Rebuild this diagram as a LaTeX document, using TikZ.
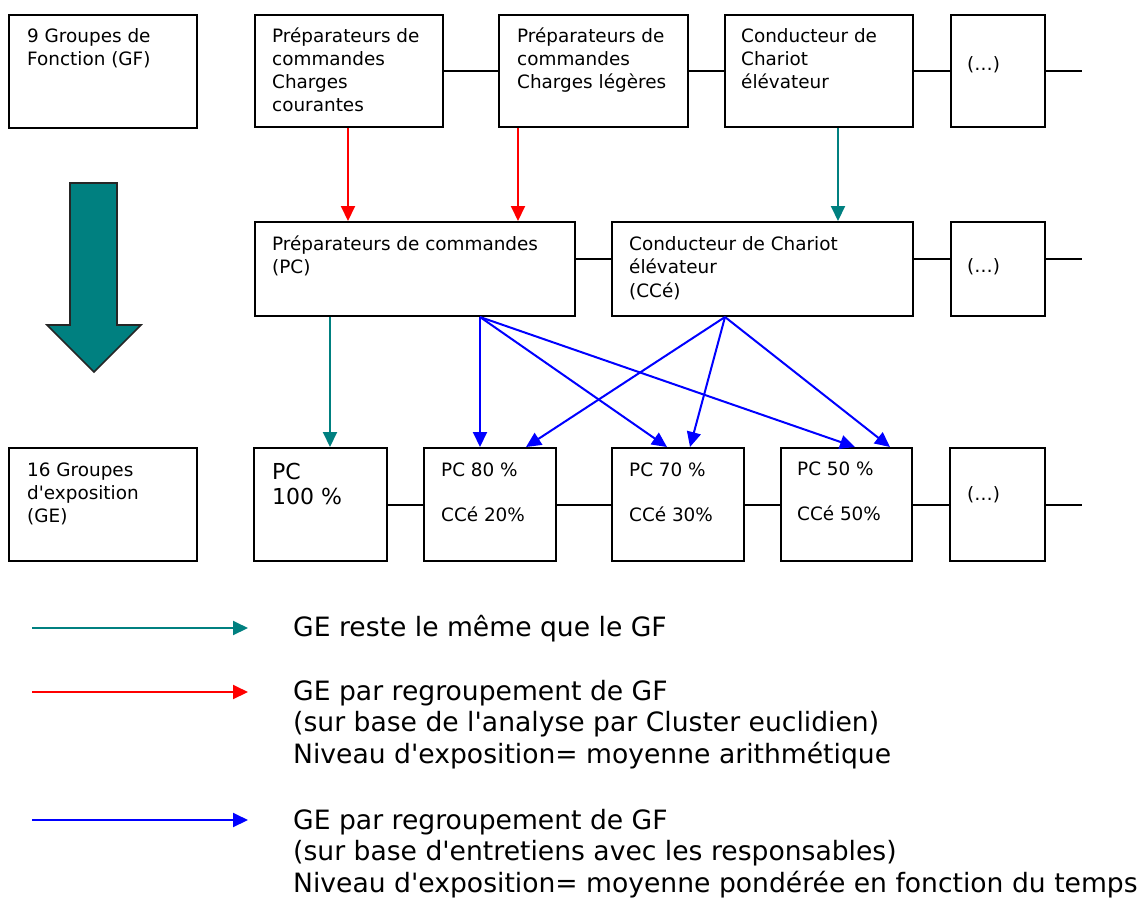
\documentclass[tikz,border=0pt]{standalone}
\usepackage{fontspec}
\setmainfont{DejaVu Sans}
\usetikzlibrary{arrows.meta,calc}
\definecolor{tealc}{RGB}{0,128,128}
\definecolor{bluec}{RGB}{0,0,255}
\definecolor{redc}{RGB}{255,0,0}
\newcommand\mybox[5]{%
  \node[bx, minimum width={#4-#2}, minimum height={#5-#3}] (#1) at ({(#2+#4)/2},{(#3+#5)/2}) {};}
\newcommand\toplines[1]{\begin{tabular}[t]{@{}l@{}}#1\end{tabular}}
\tikzset{
  bx/.style={draw=black, line width=2pt, inner sep=0pt},
  txt/.style={anchor=base west, inner sep=0pt, font=\fontsize{18.4}{23}\selectfont},
  bigtxt/.style={anchor=base west, inner sep=0pt, font=\fontsize{26.6}{31.5}\selectfont},
  link/.style={line width=2pt, draw=black},
  arr/.style={line width=2pt, -{Triangle[length=15pt,width=14pt]}},
  tealarr/.style={arr, color=tealc},
  redarr/.style={arr, color=redc},
  bluearr/.style={arr, color=bluec},
}
\begin{document}
\begin{tikzpicture}[x=1pt, y=-1pt]
\fill[white] (0,0) rectangle (1141,898);
\useasboundingbox (0,0) rectangle (1141,898);

% helper coordinates
\coordinate (xr1) at (348,0);
\coordinate (xr2) at (518,0);
\coordinate (xt1) at (838,0);
\coordinate (xt2) at (330,0);
\coordinate (xpc) at (480,0);
\coordinate (xcc) at (725,0);
\coordinate (p80a) at (480,0);
\coordinate (p80b) at (526,0);
\coordinate (p70a) at (667,0);
\coordinate (p70b) at (690,0);
\coordinate (p50a) at (855,0);
\coordinate (p50b) at (890,0);
\coordinate (ymid) at (0,259);
\coordinate (endtop) at (1082,71);
\coordinate (endmid) at (1082,259);
\coordinate (endbot) at (1082,504.5);

% top row
\mybox{GF}{9}{15}{197}{128}
\mybox{T1}{255}{15}{443}{127}
\mybox{T2}{499}{15}{688}{127}
\mybox{T3}{725}{15}{913}{127}
\mybox{T4}{951}{15}{1045}{127}
\node[txt] (tGF) at (27,42) {\toplines{9 Groupes de\\Fonction (GF)}};
\node[txt] (tT1) at (272,42) {\toplines{Préparateurs de\\commandes\\Charges\\courantes}};
\node[txt] (tT2) at (517,42) {\toplines{Préparateurs de\\commandes\\Charges légères}};
\node[txt] (tT3) at (741,42) {\toplines{Conducteur de\\Chariot\\élévateur}};
\node[txt] (tT4) at (967,70) {(…)};
\draw[link] (T1.east) -- (T2.west);
\draw[link] (T2.east) -- (T3.west);
\draw[link] (T3.east) -- (T4.west);
\draw[link] (T4.east) -- (endtop);

% middle row
\mybox{M1}{255}{222}{575}{316}
\mybox{M2}{612}{222}{913}{316}
\mybox{M3}{951}{222}{1045}{316}
\node[txt] (tM1) at (272,250) {\toplines{Préparateurs de commandes\\(PC)}};
\node[txt, font=\fontsize{18.4}{23.5}\selectfont] (tM2) at (629,250) {\toplines{Conducteur de Chariot\\élévateur\\(CCé)}};
\node[txt] (tM3) at (967,272) {(…)};
\draw[link] (M1.east |- ymid) -- (M2.west |- ymid);
\draw[link] (M2.east |- ymid) -- (M3.west |- ymid);
\draw[link] (M3.east |- ymid) -- (endmid);

% bottom row
\mybox{B0}{9}{448}{197}{561}
\mybox{B1}{254}{448}{387}{561}
\mybox{B2}{424}{448}{556}{561}
\mybox{B3}{612}{448}{744}{561}
\mybox{B4}{781}{448}{912}{561}
\mybox{B5}{950}{448}{1045}{561}
\node[txt] (tB0) at (27,476) {\toplines{16 Groupes\\d\textquotesingle exposition\\(GE)}};
\node[txt, font=\fontsize{22}{25}\selectfont] (tB1) at (272,479) {\toplines{PC\\100 \%}};
\node[txt, font=\fontsize{18.4}{22.5}\selectfont] (tB2) at (441,476) {\toplines{PC 80 \%\\~\\CCé 20\%}};
\node[txt, font=\fontsize{18.4}{22.5}\selectfont] (tB3) at (629,476) {\toplines{PC 70 \%\\~\\CCé 30\%}};
\node[txt, font=\fontsize{18.4}{22.5}\selectfont] (tB4) at (797,475) {\toplines{PC 50 \%\\~\\CCé 50\%}};
\node[txt] (tB5) at (967,500) {(…)};
\draw[link] (B1.east) -- (B2.west);
\draw[link] (B2.east) -- (B3.west);
\draw[link] (B3.east) -- (B4.west);
\draw[link] (B4.east) -- (B5.west);
\draw[link] (B5.east) -- (endbot);

% arrows top -> middle
\draw[redarr] (T1.south -| xr1) -- (M1.north -| xr1);
\draw[redarr] (T2.south -| xr2) -- (M1.north -| xr2);
\draw[tealarr] (T3.south -| xt1) -- (M2.north -| xt1);

% arrows middle -> bottom
\draw[tealarr] (M1.south -| xt2) -- (B1.north -| xt2);
\draw[bluearr] (M1.south -| xpc) -- (B2.north -| p80a);
\draw[bluearr] (M1.south -| xpc) -- (B3.north -| p70a);
\draw[bluearr] (M1.south -| xpc) -- (B4.north -| p50a);
\draw[bluearr] (M2.south -| xcc) -- (B2.north -| p80b);
\draw[bluearr] (M2.south -| xcc) -- (B3.north -| p70b);
\draw[bluearr] (M2.south -| xcc) -- (B4.north -| p50b);

% big down arrow
\draw[fill=tealc, draw=black!85, line width=1.6pt, line join=miter]
  (70,183) -- (117,183) -- (117,325) -- (141,325) -- (94,372) -- (47,325) -- (70,325) -- cycle;

% legend
\coordinate (la1) at (32,628);
\coordinate (lb1) at (248,628);
\coordinate (la2) at (32,692);
\coordinate (lb2) at (248,692);
\coordinate (la3) at (32,820);
\coordinate (lb3) at (248,820);
\draw[tealarr] (la1) -- (lb1);
\draw[redarr] (la2) -- (lb2);
\draw[bluearr] (la3) -- (lb3);
\node[bigtxt] (L1) at (293,636) {GE reste le même que le GF};
\node[bigtxt] (L2) at (293,700) {\toplines{GE par regroupement de GF\\(sur base de l\textquotesingle analyse par Cluster euclidien)\\Niveau d\textquotesingle exposition= moyenne arithmétique}};
\node[bigtxt] (L3) at (293,829) {\toplines{GE par regroupement de GF\\(sur base d\textquotesingle entretiens avec les responsables)\\Niveau d\textquotesingle exposition= moyenne pondérée en fonction du temps}};
\end{tikzpicture}
\end{document}
